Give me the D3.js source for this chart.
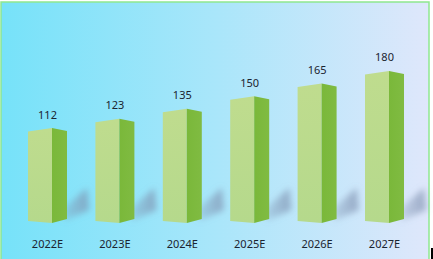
<!DOCTYPE html>
<html><head><meta charset="utf-8">
<script src="https://cdn.jsdelivr.net/npm/d3@7"></script>
<style>html,body{margin:0;padding:0;background:#fff;overflow:hidden}</style>
</head><body>
<svg id="c" width="433" height="259"></svg>
<script>
const categories = ["2022E","2023E","2024E","2025E","2026E","2027E"];
const values = [112,123,135,150,165,180];
const valueLabels = ["112","123","135","150","165","180"];

const svg = d3.select("#c");
const defs = svg.append("defs");
const bg = defs.append("linearGradient").attr("id","bg").attr("x1","0").attr("x2","1").attr("y1","0").attr("y2","0");
bg.append("stop").attr("offset","0").attr("stop-color","#76e2f9");
bg.append("stop").attr("offset","0.5").attr("stop-color","#a9e6fa");
bg.append("stop").attr("offset","1").attr("stop-color","#dfe7fb");
const fg = defs.append("linearGradient").attr("id","front").attr("x1","0").attr("x2","0").attr("y1","0").attr("y2","1");
fg.append("stop").attr("offset","0").attr("stop-color","#bfdc8e");
fg.append("stop").attr("offset","1").attr("stop-color","#b5d98c");
const sg = defs.append("linearGradient").attr("id","side").attr("x1","0").attr("x2","1").attr("y1","0").attr("y2","0");
sg.append("stop").attr("offset","0").attr("stop-color","#7ab83a");
sg.append("stop").attr("offset","1").attr("stop-color","#80bb42");
const shg = defs.append("linearGradient").attr("id","shg").attr("x1","0").attr("x2","1").attr("y1","0").attr("y2","0");
shg.append("stop").attr("offset","0").attr("stop-color","#7d8fae").attr("stop-opacity",0.25);
shg.append("stop").attr("offset","1").attr("stop-color","#7d8fae").attr("stop-opacity",0.7);
const blur = defs.append("filter").attr("id","blur").attr("x","-50%").attr("y","-50%").attr("width","200%").attr("height","200%");
blur.append("feGaussianBlur").attr("stdDeviation",3);

// background & border
svg.append("rect").attr("x",1).attr("y",2).attr("width",428).attr("height",262)
  .attr("fill","url(#bg)").attr("stroke","#8fe88f").attr("stroke-width",1.5);
svg.append("rect").attr("x",431).attr("y",248).attr("width",2).attr("height",11).attr("fill","#000");

const x = d3.scalePoint().domain(categories).range([47.5,384.5]);
const y = d3.scaleLinear().domain([0,200]).range([222,54.2]);
const fw = 24, sw = 15;

const data = categories.map((c,i)=>({c, v:values[i], l:valueLabels[i]}));

// shadows
svg.append("g").selectAll("path").data(data).join("path")
  .attr("d", d=>{
    const xr = x(d.c) - 19.5 + fw + sw;
    const b = y(0);
    return `M${xr-3},${b-1}L${xr-3},${b-14}L${xr+20},${b-34}L${xr+22},${b-12}Z`;
  })
  .attr("fill","url(#shg)").attr("filter","url(#blur)");

const g = svg.append("g").selectAll("g").data(data).join("g");
g.append("path").attr("fill","url(#front)").attr("d", d=>{
  const xl = x(d.c) - 19.5, xm = xl + fw, t = y(d.v), b = y(0);
  return `M${xl},${b-1}L${xl},${t+3.5}L${xm},${t}L${xm},${b+1}Z`;
});
g.append("path").attr("fill","url(#side)").attr("d", d=>{
  const xm = x(d.c) - 19.5 + fw, xr = xm + sw, t = y(d.v), b = y(0);
  return `M${xm},${b+1}L${xm},${t}L${xr},${t+3}L${xr},${b-3}Z`;
});
g.append("text").attr("x", d=>x(d.c)).attr("y", d=>y(d.v)-9.5)
  .attr("text-anchor","middle").attr("font-family","Noto Sans").attr("font-size",11)
  .attr("fill","#1b2430").text(d=>d.l);

svg.append("g").selectAll("text").data(categories).join("text")
  .attr("x", d=>x(d)).attr("y",248).attr("text-anchor","middle")
  .attr("font-family","Noto Sans").attr("font-size",11).attr("fill","#1b2430").text(d=>d);
</script>
</body></html>
